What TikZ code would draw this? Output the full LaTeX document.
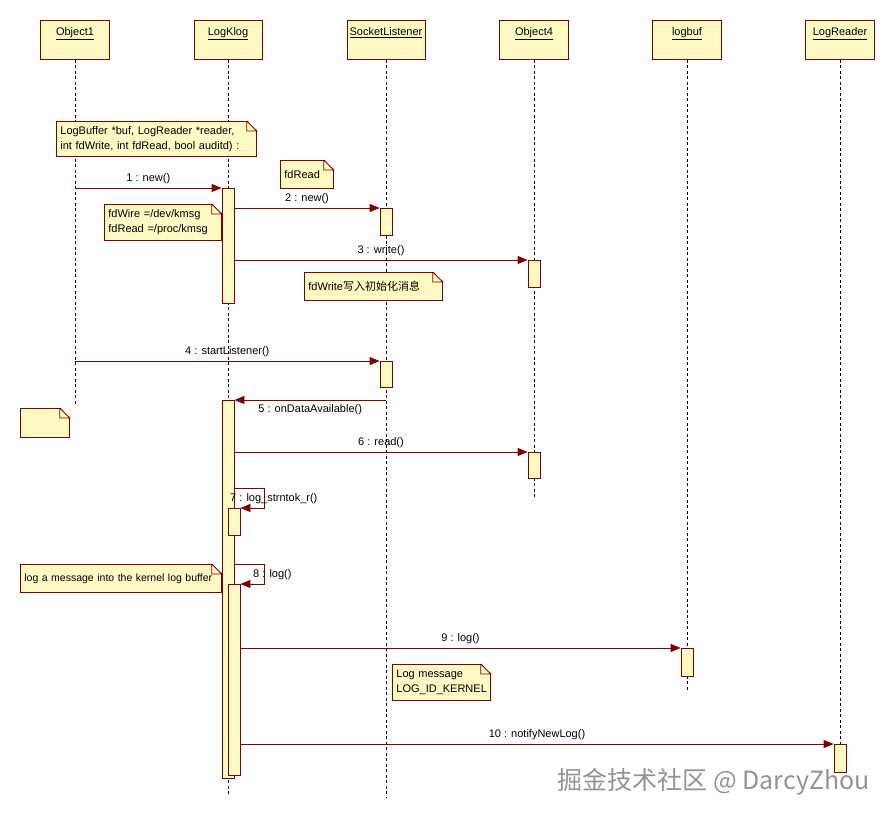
\documentclass[tikz,border=0pt]{standalone}
\usepackage{fontspec}
\setmainfont{Liberation Sans}
\newfontfamily\cjk{Noto Sans CJK SC}
\usepackage{tikz}
\usetikzlibrary{positioning,calc,arrows.meta}

\definecolor{umlred}{RGB}{128,0,0}
\definecolor{umlfill}{RGB}{255,250,196}

\tikzset{
  head/.style={draw=umlred, fill=umlfill, anchor=north, minimum width=69pt, inner xsep=2pt, inner ysep=3pt, text height=12pt, text depth=21pt, line width=0.8pt},
  life/.style={line width=0.7pt, dash pattern=on 3pt off 2.5pt},
  act/.style={draw=umlred, fill=umlfill, anchor=north, minimum width=12pt, inner sep=0pt, line width=0.8pt},
  msg/.style={draw=umlred, line width=0.8pt, -{Triangle[length=10pt,width=8pt,fill=umlred]}},
  lbl/.style={inner sep=1pt, text=black},
  note/.style={draw=umlred, fill=umlfill, anchor=north west, align=left, inner xsep=4pt, inner ysep=0pt, line width=0.8pt}
}

\newcommand\notefold[1]{%
  \fill[white] ([xshift=-10pt,yshift=1pt]#1.north east) -- ([xshift=1pt,yshift=1pt]#1.north east) -- ([xshift=1pt,yshift=-10pt]#1.north east) -- cycle;
  \draw[umlred, line width=0.8pt] ([xshift=-10pt]#1.north east) -- ([yshift=-10pt]#1.north east) -| ([xshift=-10pt]#1.north east);
}

\begin{document}
\begin{tikzpicture}[x=1pt, y=-1pt, font=\fontsize{11}{15}\selectfont]
    \useasboundingbox (0,0) rectangle (894,819);

    \node[head] (obj1) at (75,20) {\underline{Object1}};
    \node[head, minimum width=68pt] (klog) at (228,20) {\underline{LogKlog}};
    \node[head, minimum width=78pt] (sock) at (386,20) {\underline{SocketListener}};
    \node[head] (obj4) at (534,20) {\underline{Object4}};
    \node[head] (lbuf) at (687,20) {\underline{logbuf}};
    \node[head] (lread) at (840,20) {\underline{LogReader}};

    \coordinate (obj1end) at (75,405);
    \coordinate (klogend) at (228,795);
    \coordinate (sockend) at (386,798);
    \coordinate (obj4end) at (534,498);
    \coordinate (lbufend) at (687,692);
    \coordinate (lreadend) at (840,772);
    \draw[life] (obj1) -- (obj1end);
    \draw[life] (klog) -- (klogend);
    \draw[life] (sock) -- (sockend);
    \draw[life] (obj4) -- (obj4end);
    \draw[life] (lbuf) -- (lbufend);
    \draw[life] (lread) -- (lreadend);

    \node[note, text width=192pt, minimum height=35pt] (nargs) at (56,121) {LogBuffer *buf, LogReader *reader,\\ int fdWrite, int fdRead, bool auditd) :};
    \notefold{nargs}
    \node[note, text width=45pt, minimum height=28pt] (nread) at (280,160) {fdRead};
    \notefold{nread}
    \node[note, text width=109pt, minimum height=36pt] (nfd) at (104,204) {fdWire =/dev/kmsg\\fdRead =/proc/kmsg};
    \notefold{nfd}
    \node[note, text width=130pt, minimum height=28pt] (nwrite) at (304,272) {fdWrite{\cjk 写入初始化消息}};
    \notefold{nwrite}
    \node[note, text width=41pt, minimum height=29pt] (nempty) at (20,408) {};
    \notefold{nempty}
    \node[note, text width=193pt, minimum height=28pt, font=\fontsize{10.5}{15}\selectfont] (nlog) at (20,564) {log a message into the kernel log buffer};
    \notefold{nlog}
    \node[note, text width=90pt, minimum height=36pt] (nmsg) at (392,664) {Log message\\LOG\_ID\_KERNEL};
    \notefold{nmsg}

    \node[act, minimum height=115pt] (klogA) at (228,188) {};
    \node[act, minimum height=27pt] (sockA) at (386,208) {};
    \node[act, minimum height=27pt] (obj4A) at (534,260) {};
    \node[act, minimum height=26pt] (sockB) at (386,361) {};
    \node[act, minimum height=378pt] (klogB) at (228,400) {};
    \node[act, minimum height=26pt] (obj4B) at (534,452) {};
    \node[act, minimum height=27pt] (klogC) at (234,508) {};
    \node[act, minimum height=191pt] (klogD) at (234,584) {};
    \node[act, minimum height=28pt] (lbufA) at (687,648) {};
    \node[act, minimum height=28pt] (lreadA) at (840,744) {};

    \draw[msg] (obj1 |- klogA.north) -- (klogA.north west) node[lbl, midway, above=3pt] {1 : new()};
    \draw[msg] (klogA.east |- sockA.north) -- (sockA.north west) node[lbl, midway, above=3pt] {2 : new()};
    \draw[msg] (klogA.east |- obj4A.north) -- (obj4A.north west) node[lbl, midway, above=3pt] {3 : write()};
    \draw[msg] (obj1 |- sockB.north) -- (sockB.north west) node[lbl, midway, above=3pt] {4 : startListener()};
    \draw[msg] (sock |- klogB.north) -- (klogB.north east) node[lbl, midway, below=3pt] {5 : onDataAvailable()};
    \draw[msg] (klogB.east |- obj4B.north) -- (obj4B.north west) node[lbl, midway, above=3pt] {6 : read()};

    \coordinate (loop7) at (264,488);
    \draw[msg] (klogB.east |- loop7) -- (loop7) |- (klogC.north east);
    \node[lbl, anchor=west] (m7) at (229,499) {7 : log\_strntok\_r()};
    \coordinate (loop8) at (264,564);
    \draw[msg] (klogB.east |- loop8) -- (loop8) |- (klogD.north east);
    \node[lbl, anchor=west] (m8) at (252,575) {8 : log()};

    \draw[msg] (klogD.east |- lbufA.north) -- (lbufA.north west) node[lbl, midway, above=3pt] {9 : log()};
    \draw[msg] (klogD.east |- lreadA.north) -- (lreadA.north west) node[lbl, midway, above=3pt] {10 : notifyNewLog()};

    \node[anchor=west, text=gray!85, font=\cjk\fontsize{25}{25}\selectfont] (mark) at (554,782) {掘金技术社区 @ DarcyZhou};
\end{tikzpicture}
\end{document}
